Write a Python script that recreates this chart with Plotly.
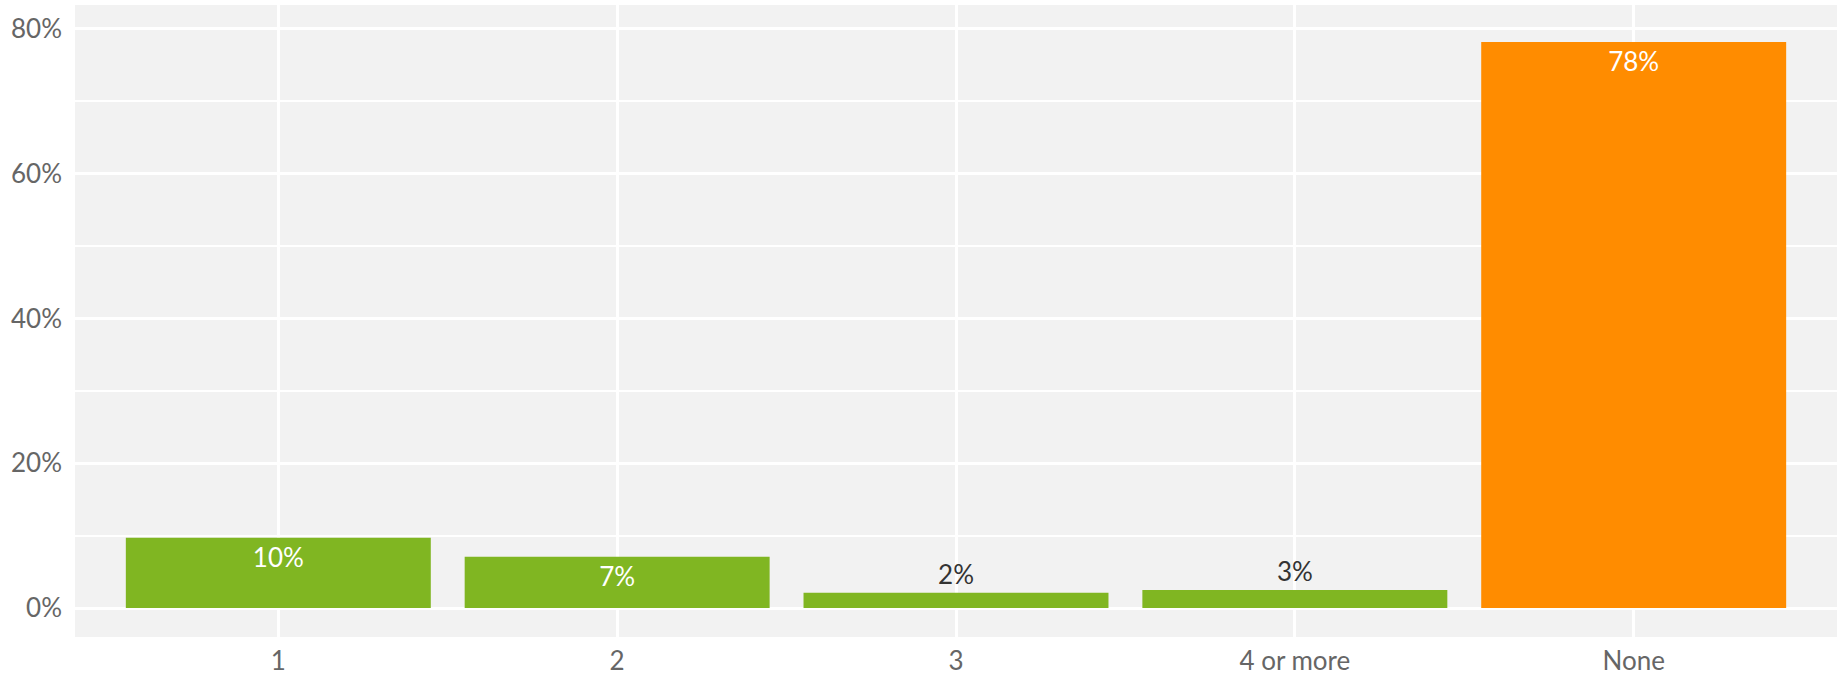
import plotly.graph_objects as go

categories = ["1", "2", "3", "4 or more", "None"]
values = [9.7, 7.1, 2.1, 2.5, 78.2]
labels = ["10%", "7%", "2%", "3%", "78%"]
colors = ["#80b622", "#80b622", "#80b622", "#80b622", "#ff8c00"]

fig = go.Figure(
    go.Bar(
        x=categories,
        y=values,
        text=labels,
        textposition="auto",
        insidetextanchor="end",
        marker=dict(color=colors, line=dict(width=0)),
        insidetextfont=dict(color="#ffffff", size=26, family="Lato"),
        outsidetextfont=dict(color="#333333", size=26, family="Lato"),
        textangle=0,
        cliponaxis=False,
        hoverinfo="skip",
    )
)

fig.update_layout(
    width=1841,
    height=678,
    margin=dict(l=75, r=4, t=5, b=41, autoexpand=False),
    paper_bgcolor="#ffffff",
    plot_bgcolor="#f2f2f2",
    bargap=0.1,
    showlegend=False,
    font=dict(family="Lato", size=26, color="#666666"),
    uniformtext=dict(minsize=26, mode="show"),
)
fig.update_xaxes(
    range=[-0.6, 4.6],
    automargin=False,
    showgrid=True,
    gridcolor="#ffffff",
    gridwidth=3,
    showline=False,
    ticks="",
    ticklabelstandoff=6,
    tickfont=dict(size=26, color="#666666"),
)
fig.update_yaxes(
    range=[-4.0, 83.3],
    automargin=False,
    tickvals=[0, 20, 40, 60, 80],
    ticktext=["0%", "20%", "40%", "60%", "80%"],
    showgrid=True,
    gridcolor="#ffffff",
    gridwidth=3,
    zeroline=True,
    zerolinecolor="#ffffff",
    zerolinewidth=3,
    minor=dict(tickvals=[10, 30, 50, 70], showgrid=True, gridcolor="#ffffff", gridwidth=2),
    ticks="",
    ticklabelstandoff=12,
    tickfont=dict(size=26, color="#666666"),
)

fig.write_html(
    "out.html",
    config={"displayModeBar": False},
    post_script="document.body.style.margin='0';document.body.style.overflow='hidden';",
)
